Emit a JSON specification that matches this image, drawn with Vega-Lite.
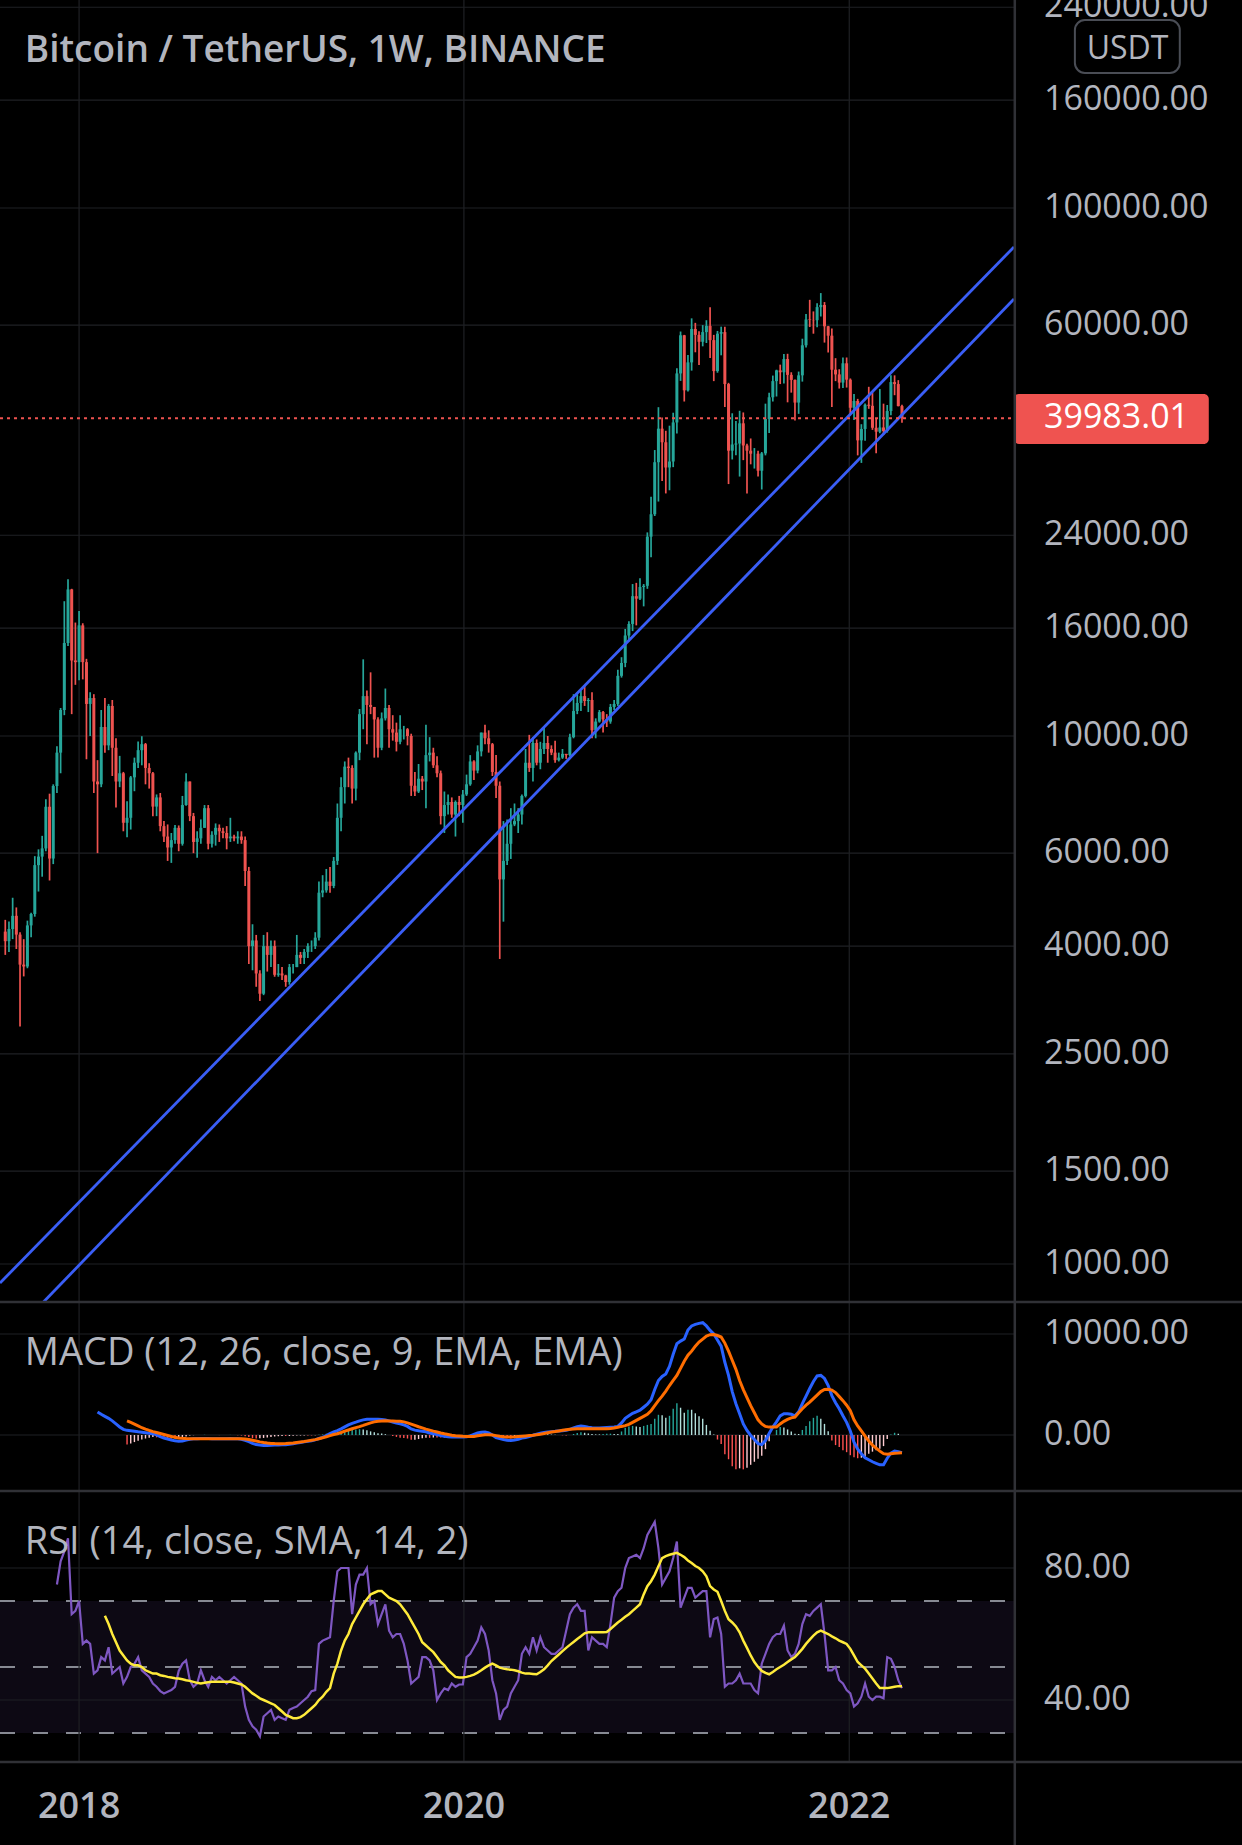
{
"$schema":"https://vega.github.io/schema/vega-lite/v6.json",
"width":1242,"height":1845,"autosize":{"type":"none"},"padding":0,"background":"#000000",
"config":{"view":{"stroke":null},"font":"Open Sans","legend":{"disable":true}},
"resolve":{"scale":{"y":"independent"}},
"datasets":{
"w":[
{"d":"2017-08-14","o":4261,"h":4485,"l":3850,"c":4087},
{"d":"2017-08-21","o":4087,"h":4453,"l":3900,"c":4310},
{"d":"2017-08-28","o":4310,"h":4939,"l":4124,"c":4565},
{"d":"2017-09-04","o":4565,"h":4735,"l":3950,"c":4206},
{"d":"2017-09-11","o":4206,"h":4250,"l":2817,"c":3690},
{"d":"2017-09-18","o":3690,"h":4123,"l":3505,"c":3660},
{"d":"2017-09-25","o":3660,"h":4470,"l":3632,"c":4378},
{"d":"2017-10-02","o":4378,"h":4626,"l":4158,"c":4602},
{"d":"2017-10-09","o":4602,"h":5922,"l":4548,"c":5694},
{"d":"2017-10-16","o":5694,"h":6100,"l":5075,"c":5910},
{"d":"2017-10-23","o":5910,"h":6470,"l":5414,"c":6125},
{"d":"2017-10-30","o":6125,"h":7590,"l":6050,"c":7345},
{"d":"2017-11-06","o":7345,"h":7776,"l":5325,"c":5860},
{"d":"2017-11-13","o":5860,"h":8100,"l":5720,"c":8040},
{"d":"2017-11-20","o":8040,"h":9560,"l":7800,"c":9300,"r":75},
{"d":"2017-11-27","o":9300,"h":11300,"l":8500,"c":11200,"r":82},
{"d":"2017-12-04","o":11200,"h":18000,"l":10950,"c":15000,"r":85},
{"d":"2017-12-11","o":15000,"h":19800,"l":14800,"c":18950,"r":89},
{"d":"2017-12-18","o":18950,"h":19000,"l":11000,"c":13900,"r":66},
{"d":"2017-12-25","o":13900,"h":16400,"l":12500,"c":13800,"r":67},
{"d":"2018-01-01","o":13800,"h":17250,"l":12750,"c":16200,"r":70},
{"d":"2018-01-08","o":16200,"h":16350,"l":12800,"c":13800,"r":57},
{"d":"2018-01-15","o":13800,"h":14000,"l":9035,"c":11500,"r":58},
{"d":"2018-01-22","o":11500,"h":12100,"l":10000,"c":11800,"r":57},
{"d":"2018-01-29","o":11800,"h":12000,"l":7800,"c":8200,"r":48},
{"d":"2018-02-05","o":8200,"h":9000,"l":6000,"c":8100,"r":49,"m":2280},
{"d":"2018-02-12","o":8100,"h":11200,"l":8000,"c":10400,"r":53,"m":2050},
{"d":"2018-02-19","o":10400,"h":11800,"l":9300,"c":9600,"r":52,"rs":65.5,"m":1850},
{"d":"2018-02-26","o":9600,"h":11500,"l":9400,"c":11400,"r":56,"rs":63,"m":1650},
{"d":"2018-03-05","o":11400,"h":11700,"l":8400,"c":9500,"r":48,"rs":60,"m":1400},
{"d":"2018-03-12","o":9500,"h":9900,"l":7320,"c":8200,"r":49,"rs":57.5,"m":1100},
{"d":"2018-03-19","o":8200,"h":9170,"l":8000,"c":8500,"r":50,"rs":55,"m":800},
{"d":"2018-03-26","o":8500,"h":8550,"l":6600,"c":6850,"r":45,"rs":53.5,"m":560},
{"d":"2018-04-02","o":6850,"h":7520,"l":6430,"c":7000,"r":47,"rs":52,"m":460,"s":1400,"hg":-940,"hc":"fb"},
{"d":"2018-04-09","o":7000,"h":8400,"l":6650,"c":8350,"r":50,"rs":51,"m":420,"s":1250,"hg":-830,"hc":"rb"},
{"d":"2018-04-16","o":8350,"h":9100,"l":7860,"c":8900,"r":51,"rs":50.5,"m":380,"s":1080,"hg":-700,"hc":"rb"},
{"d":"2018-04-23","o":8900,"h":9760,"l":8700,"c":9400,"r":53,"rs":50.5,"m":320,"s":900,"hg":-580,"hc":"rb"},
{"d":"2018-04-30","o":9400,"h":9990,"l":8800,"c":9650,"r":49,"rs":50,"m":280,"s":720,"hg":-440,"hc":"rb"},
{"d":"2018-05-07","o":9650,"h":9700,"l":8100,"c":8700,"r":48,"rs":49,"m":230,"s":580,"hg":-350,"hc":"rb"},
{"d":"2018-05-14","o":8700,"h":8880,"l":7950,"c":8500,"r":47,"rs":48.5,"m":180,"s":450,"hg":-270,"hc":"rb"},
{"d":"2018-05-21","o":8500,"h":8550,"l":7050,"c":7350,"r":45,"rs":48,"m":130,"s":330,"hg":-200,"hc":"rb"},
{"d":"2018-05-28","o":7350,"h":7750,"l":7050,"c":7650,"r":44,"rs":48,"m":20,"s":250,"hg":-230,"hc":"fb"},
{"d":"2018-06-04","o":7650,"h":7800,"l":6600,"c":6750,"r":42.7,"rs":47.5,"m":-150,"s":150,"hg":-300,"hc":"fb"},
{"d":"2018-06-11","o":6750,"h":6900,"l":6300,"c":6450,"r":42,"rs":47.3,"m":-300,"s":50,"hg":-350,"hc":"fb"},
{"d":"2018-06-18","o":6450,"h":6800,"l":5800,"c":6150,"r":42.5,"rs":47,"m":-400,"s":-50,"hg":-350,"hc":"fb"},
{"d":"2018-06-25","o":6150,"h":6550,"l":5750,"c":6350,"r":43,"rs":46.8,"m":-500,"s":-150,"hg":-350,"hc":"fb"},
{"d":"2018-07-02","o":6350,"h":6780,"l":6250,"c":6700,"r":44,"rs":46.6,"m":-580,"s":-220,"hg":-360,"hc":"fb"},
{"d":"2018-07-09","o":6700,"h":6770,"l":6050,"c":6250,"r":48.8,"rs":46.5,"m":-630,"s":-290,"hg":-340,"hc":"rb"},
{"d":"2018-07-16","o":6250,"h":7700,"l":6200,"c":7400,"r":51,"rs":46.3,"m":-600,"s":-330,"hg":-270,"hc":"rb"},
{"d":"2018-07-23","o":7400,"h":8500,"l":7380,"c":8200,"r":52,"rs":46,"m":-500,"s":-350,"hg":-150,"hc":"rb"},
{"d":"2018-07-30","o":8200,"h":8200,"l":6900,"c":7050,"r":46,"rs":45.8,"m":-420,"s":-360,"hg":-60,"hc":"rb"},
{"d":"2018-08-06","o":7050,"h":7150,"l":6000,"c":6300,"r":44,"rs":45.5,"m":-380,"s":-360,"hg":-20,"hc":"rb"},
{"d":"2018-08-13","o":6300,"h":6600,"l":5880,"c":6400,"r":45,"rs":45.2,"m":-360,"s":-360,"hg":0,"hc":"ga"},
{"d":"2018-08-20","o":6400,"h":6950,"l":6250,"c":6700,"r":49,"rs":45,"m":-350,"s":-360,"hg":10,"hc":"ga"},
{"d":"2018-08-27","o":6700,"h":7400,"l":6700,"c":7300,"r":46,"rs":45.2,"m":-340,"s":-360,"hg":20,"hc":"ga"},
{"d":"2018-09-03","o":7300,"h":7400,"l":6100,"c":6250,"r":44,"rs":45.4,"m":-350,"s":-360,"hg":10,"hc":"fa"},
{"d":"2018-09-10","o":6250,"h":6600,"l":6150,"c":6500,"r":47,"rs":45.5,"m":-360,"s":-360,"hg":0,"hc":"fa"},
{"d":"2018-09-17","o":6500,"h":6830,"l":6200,"c":6700,"r":46,"rs":45.5,"m":-360,"s":-360,"hg":0,"hc":"fa"},
{"d":"2018-09-24","o":6700,"h":6800,"l":6300,"c":6600,"r":47,"rs":45.5,"m":-370,"s":-360,"hg":-10,"hc":"fb"},
{"d":"2018-10-01","o":6600,"h":6700,"l":6400,"c":6550,"r":46,"rs":45.5,"m":-370,"s":-360,"hg":-10,"hc":"fb"},
{"d":"2018-10-08","o":6550,"h":6750,"l":6100,"c":6400,"r":45,"rs":45.5,"m":-360,"s":-360,"hg":0,"hc":"ga"},
{"d":"2018-10-15","o":6400,"h":7000,"l":6300,"c":6450,"r":46,"rs":45.5,"m":-350,"s":-360,"hg":10,"hc":"ga"},
{"d":"2018-10-22","o":6450,"h":6500,"l":6320,"c":6400,"r":47,"rs":45.3,"m":-360,"s":-360,"hg":0,"hc":"fa"},
{"d":"2018-10-29","o":6400,"h":6600,"l":6250,"c":6450,"r":46,"rs":45,"m":-380,"s":-360,"hg":-20,"hc":"fb"},
{"d":"2018-11-05","o":6450,"h":6600,"l":6250,"c":6350,"r":45,"rs":44.7,"m":-420,"s":-370,"hg":-50,"hc":"fb"},
{"d":"2018-11-12","o":6350,"h":6450,"l":5200,"c":5550,"r":38,"rs":44,"m":-520,"s":-400,"hg":-120,"hc":"fb"},
{"d":"2018-11-19","o":5550,"h":5650,"l":3700,"c":4000,"r":34,"rs":43,"m":-660,"s":-450,"hg":-210,"hc":"fb"},
{"d":"2018-11-26","o":4000,"h":4400,"l":3600,"c":4100,"r":32,"rs":42,"m":-830,"s":-520,"hg":-310,"hc":"fb"},
{"d":"2018-12-03","o":4100,"h":4200,"l":3350,"c":3550,"r":31,"rs":41.3,"m":-950,"s":-600,"hg":-350,"hc":"fb"},
{"d":"2018-12-10","o":3550,"h":3600,"l":3150,"c":3250,"r":29,"rs":40.5,"m":-1000,"s":-680,"hg":-320,"hc":"rb"},
{"d":"2018-12-17","o":3250,"h":4200,"l":3230,"c":4000,"r":35,"rs":40,"m":-1030,"s":-740,"hg":-290,"hc":"rb"},
{"d":"2018-12-24","o":4000,"h":4250,"l":3580,"c":3850,"r":36,"rs":39.5,"m":-1030,"s":-790,"hg":-240,"hc":"rb"},
{"d":"2018-12-31","o":3850,"h":4100,"l":3650,"c":4000,"r":37,"rs":39,"m":-1020,"s":-830,"hg":-190,"hc":"rb"},
{"d":"2019-01-07","o":4000,"h":4100,"l":3500,"c":3530,"r":34,"rs":38.5,"m":-1000,"s":-850,"hg":-150,"hc":"rb"},
{"d":"2019-01-14","o":3530,"h":3700,"l":3500,"c":3550,"r":35,"rs":37.5,"m":-980,"s":-860,"hg":-120,"hc":"rb"},
{"d":"2019-01-21","o":3550,"h":3650,"l":3450,"c":3520,"r":34.5,"rs":36.5,"m":-970,"s":-860,"hg":-110,"hc":"rb"},
{"d":"2019-01-28","o":3520,"h":3530,"l":3350,"c":3420,"r":34,"rs":35.5,"m":-960,"s":-850,"hg":-110,"hc":"fb"},
{"d":"2019-02-04","o":3420,"h":3700,"l":3380,"c":3650,"r":37,"rs":35,"m":-920,"s":-820,"hg":-100,"hc":"rb"},
{"d":"2019-02-11","o":3650,"h":3700,"l":3550,"c":3650,"r":37.6,"rs":34.5,"m":-870,"s":-790,"hg":-80,"hc":"rb"},
{"d":"2019-02-18","o":3650,"h":4200,"l":3650,"c":3850,"r":38,"rs":34.5,"m":-800,"s":-740,"hg":-60,"hc":"rb"},
{"d":"2019-02-25","o":3850,"h":3900,"l":3700,"c":3800,"r":39,"rs":34.8,"m":-740,"s":-690,"hg":-50,"hc":"rb"},
{"d":"2019-03-04","o":3800,"h":3950,"l":3700,"c":3900,"r":40,"rs":35.5,"m":-680,"s":-640,"hg":-40,"hc":"rb"},
{"d":"2019-03-11","o":3900,"h":4050,"l":3800,"c":4000,"r":41,"rs":36.5,"m":-620,"s":-580,"hg":-40,"hc":"fb"},
{"d":"2019-03-18","o":4000,"h":4100,"l":3900,"c":4000,"r":42.7,"rs":37.5,"m":-560,"s":-520,"hg":-40,"hc":"fb"},
{"d":"2019-03-25","o":4000,"h":4250,"l":3950,"c":4150,"r":43,"rs":38.5,"m":-480,"s":-460,"hg":-20,"hc":"rb"},
{"d":"2019-04-01","o":4150,"h":5300,"l":4100,"c":5050,"r":57,"rs":40,"m":-350,"s":-370,"hg":20,"hc":"ga"},
{"d":"2019-04-08","o":5050,"h":5450,"l":4950,"c":5100,"r":58,"rs":41,"m":-230,"s":-280,"hg":50,"hc":"ga"},
{"d":"2019-04-15","o":5100,"h":5600,"l":5050,"c":5300,"r":58.5,"rs":42.5,"m":-60,"s":-180,"hg":120,"hc":"ga"},
{"d":"2019-04-22","o":5300,"h":5650,"l":5050,"c":5200,"r":59,"rs":43.6,"m":150,"s":-60,"hg":210,"hc":"ga"},
{"d":"2019-04-29","o":5200,"h":5900,"l":5150,"c":5800,"r":70,"rs":48,"m":300,"s":50,"hg":250,"hc":"ga"},
{"d":"2019-05-06","o":5800,"h":7450,"l":5700,"c":7000,"r":79,"rs":51,"m":430,"s":130,"hg":300,"hc":"ga"},
{"d":"2019-05-13","o":7000,"h":8350,"l":6600,"c":8000,"r":80,"rs":55,"m":600,"s":250,"hg":350,"hc":"ga"},
{"d":"2019-05-20","o":8000,"h":8950,"l":7450,"c":8750,"r":80,"rs":58,"m":800,"s":380,"hg":420,"hc":"ga"},
{"d":"2019-05-27","o":8750,"h":9100,"l":8000,"c":8700,"r":80,"rs":60,"m":1000,"s":500,"hg":500,"hc":"ga"},
{"d":"2019-06-03","o":8700,"h":8800,"l":7450,"c":7950,"r":66,"rs":63,"m":1150,"s":620,"hg":530,"hc":"ga"},
{"d":"2019-06-10","o":7950,"h":9350,"l":7550,"c":9300,"r":75,"rs":65,"m":1270,"s":730,"hg":540,"hc":"ga"},
{"d":"2019-06-17","o":9300,"h":11250,"l":9000,"c":11000,"r":78,"rs":67,"m":1400,"s":830,"hg":570,"hc":"ga"},
{"d":"2019-06-24","o":11000,"h":13970,"l":10300,"c":11900,"r":78,"rs":69,"m":1500,"s":950,"hg":550,"hc":"fa"},
{"d":"2019-07-01","o":11900,"h":12200,"l":9650,"c":11450,"r":80,"rs":70.5,"m":1550,"s":1080,"hg":470,"hc":"fa"},
{"d":"2019-07-08","o":11450,"h":13200,"l":11000,"c":11350,"r":69,"rs":72,"m":1560,"s":1200,"hg":360,"hc":"fa"},
{"d":"2019-07-15","o":11350,"h":11350,"l":9100,"c":10750,"r":70,"rs":72.5,"m":1560,"s":1300,"hg":260,"hc":"fa"},
{"d":"2019-07-22","o":10750,"h":10850,"l":9100,"c":9500,"r":63,"rs":73,"m":1550,"s":1370,"hg":180,"hc":"fa"},
{"d":"2019-07-29","o":9500,"h":11080,"l":9400,"c":10800,"r":66,"rs":73,"m":1540,"s":1390,"hg":150,"hc":"fa"},
{"d":"2019-08-05","o":10800,"h":12300,"l":10700,"c":11300,"r":69,"rs":72,"m":1480,"s":1400,"hg":80,"hc":"fa"},
{"d":"2019-08-12","o":11300,"h":11450,"l":9500,"c":10300,"r":61,"rs":71,"m":1400,"s":1390,"hg":10,"hc":"fa"},
{"d":"2019-08-19","o":10300,"h":10950,"l":9800,"c":10150,"r":59,"rs":70.5,"m":1290,"s":1380,"hg":-90,"hc":"fb"},
{"d":"2019-08-26","o":10150,"h":10600,"l":9350,"c":9750,"r":60,"rs":70,"m":1180,"s":1370,"hg":-190,"hc":"fb"},
{"d":"2019-09-02","o":9750,"h":10950,"l":9650,"c":10300,"r":60,"rs":69,"m":1100,"s":1360,"hg":-260,"hc":"fb"},
{"d":"2019-09-09","o":10300,"h":10450,"l":9850,"c":10300,"r":57,"rs":67.5,"m":1000,"s":1300,"hg":-300,"hc":"fb"},
{"d":"2019-09-16","o":10300,"h":10350,"l":9600,"c":10000,"r":52,"rs":66,"m":850,"s":1200,"hg":-350,"hc":"fb"},
{"d":"2019-09-23","o":10000,"h":10100,"l":7700,"c":8050,"r":45,"rs":64,"m":600,"s":1080,"hg":-480,"hc":"fb"},
{"d":"2019-09-30","o":8050,"h":8550,"l":7700,"c":7850,"r":46,"rs":62,"m":480,"s":950,"hg":-470,"hc":"rb"},
{"d":"2019-10-07","o":7850,"h":8850,"l":7800,"c":8300,"r":47,"rs":60,"m":420,"s":820,"hg":-400,"hc":"rb"},
{"d":"2019-10-14","o":8300,"h":8400,"l":7900,"c":8200,"r":53,"rs":57.5,"m":380,"s":700,"hg":-320,"hc":"rb"},
{"d":"2019-10-21","o":8200,"h":10500,"l":7300,"c":9200,"r":53,"rs":56.5,"m":320,"s":580,"hg":-260,"hc":"rb"},
{"d":"2019-10-28","o":9200,"h":9950,"l":8950,"c":9300,"r":52,"rs":55.5,"m":200,"s":480,"hg":-280,"hc":"fb"},
{"d":"2019-11-04","o":9300,"h":9500,"l":8700,"c":8800,"r":49,"rs":54.5,"m":130,"s":380,"hg":-250,"hc":"rb"},
{"d":"2019-11-11","o":8800,"h":9150,"l":8350,"c":8500,"r":40,"rs":53,"m":50,"s":300,"hg":-250,"hc":"fb"},
{"d":"2019-11-18","o":8500,"h":8600,"l":6800,"c":7050,"r":42,"rs":51.5,"m":-50,"s":200,"hg":-250,"hc":"fb"},
{"d":"2019-11-25","o":7050,"h":7850,"l":6550,"c":7400,"r":43.5,"rs":50.5,"m":-120,"s":120,"hg":-240,"hc":"rb"},
{"d":"2019-12-02","o":7400,"h":7750,"l":7100,"c":7500,"r":43,"rs":49,"m":-180,"s":50,"hg":-230,"hc":"rb"},
{"d":"2019-12-09","o":7500,"h":7650,"l":7000,"c":7100,"r":45,"rs":48,"m":-200,"s":-20,"hg":-180,"hc":"rb"},
{"d":"2019-12-16","o":7100,"h":7550,"l":6450,"c":7500,"r":44,"rs":47,"m":-210,"s":-80,"hg":-130,"hc":"rb"},
{"d":"2019-12-23","o":7500,"h":7700,"l":7050,"c":7400,"r":44.7,"rs":46.8,"m":-210,"s":-100,"hg":-110,"hc":"rb"},
{"d":"2019-12-30","o":7400,"h":7900,"l":6850,"c":7750,"r":44.7,"rs":46.8,"m":-200,"s":-130,"hg":-70,"hc":"rb"},
{"d":"2020-01-06","o":7750,"h":8450,"l":7700,"c":8100,"r":53,"rs":47,"m":-180,"s":-150,"hg":-30,"hc":"rb"},
{"d":"2020-01-13","o":8100,"h":9200,"l":8050,"c":8950,"r":54,"rs":47.3,"m":-100,"s":-160,"hg":60,"hc":"ga"},
{"d":"2020-01-20","o":8950,"h":9000,"l":8250,"c":8600,"r":56,"rs":47.7,"m":50,"s":-140,"hg":190,"hc":"ga"},
{"d":"2020-01-27","o":8600,"h":9600,"l":8500,"c":9350,"r":58,"rs":48.3,"m":200,"s":-80,"hg":280,"hc":"ga"},
{"d":"2020-02-03","o":9350,"h":10150,"l":9150,"c":10150,"r":62,"rs":49,"m":280,"s":-20,"hg":300,"hc":"ga"},
{"d":"2020-02-10","o":10150,"h":10500,"l":9650,"c":9900,"r":60,"rs":49.8,"m":300,"s":20,"hg":280,"hc":"fa"},
{"d":"2020-02-17","o":9900,"h":10250,"l":9300,"c":9650,"r":55,"rs":50.5,"m":200,"s":30,"hg":170,"hc":"fa"},
{"d":"2020-02-24","o":9650,"h":9700,"l":8400,"c":8550,"r":46,"rs":51,"m":0,"s":0,"hg":0,"hc":"fa"},
{"d":"2020-03-02","o":8550,"h":9200,"l":7630,"c":8050,"r":42,"rs":50.5,"m":-250,"s":-60,"hg":-190,"hc":"fb"},
{"d":"2020-03-09","o":8050,"h":8200,"l":3782,"c":5350,"r":34,"rs":49.8,"m":-360,"s":-120,"hg":-240,"hc":"fb"},
{"d":"2020-03-16","o":5350,"h":6900,"l":4450,"c":5800,"r":37,"rs":49.5,"m":-450,"s":-170,"hg":-280,"hc":"fb"},
{"d":"2020-03-23","o":5800,"h":6950,"l":5700,"c":6250,"r":38,"rs":49.3,"m":-520,"s":-200,"hg":-320,"hc":"fb"},
{"d":"2020-03-30","o":6250,"h":7300,"l":5850,"c":6800,"r":42,"rs":49.2,"m":-540,"s":-200,"hg":-340,"hc":"fb"},
{"d":"2020-04-06","o":6800,"h":7450,"l":6750,"c":6900,"r":44,"rs":49,"m":-500,"s":-180,"hg":-320,"hc":"rb"},
{"d":"2020-04-13","o":6900,"h":7300,"l":6550,"c":7100,"r":46,"rs":48.7,"m":-420,"s":-150,"hg":-270,"hc":"rb"},
{"d":"2020-04-20","o":7100,"h":7750,"l":6800,"c":7700,"r":54,"rs":48.3,"m":-300,"s":-120,"hg":-180,"hc":"rb"},
{"d":"2020-04-27","o":7700,"h":9450,"l":7650,"c":8900,"r":56,"rs":48,"m":-250,"s":-90,"hg":-160,"hc":"rb"},
{"d":"2020-05-04","o":8900,"h":10050,"l":8550,"c":8700,"r":54,"rs":48,"m":-150,"s":-60,"hg":-90,"hc":"rb"},
{"d":"2020-05-11","o":8700,"h":9950,"l":8200,"c":9700,"r":59,"rs":47.9,"m":-30,"s":-30,"hg":0,"hc":"ga"},
{"d":"2020-05-18","o":9700,"h":9850,"l":8800,"c":8900,"r":55,"rs":47.8,"m":80,"s":20,"hg":60,"hc":"ga"},
{"d":"2020-05-25","o":8900,"h":9750,"l":8650,"c":9450,"r":59,"rs":48.5,"m":180,"s":80,"hg":100,"hc":"ga"},
{"d":"2020-06-01","o":9450,"h":10400,"l":9250,"c":9700,"r":56,"rs":49.3,"m":250,"s":150,"hg":100,"hc":"fa"},
{"d":"2020-06-08","o":9700,"h":10000,"l":8900,"c":9450,"r":55,"rs":50.5,"m":300,"s":230,"hg":70,"hc":"fa"},
{"d":"2020-06-15","o":9450,"h":9600,"l":9200,"c":9300,"r":54,"rs":51.8,"m":330,"s":290,"hg":40,"hc":"fa"},
{"d":"2020-06-22","o":9300,"h":9800,"l":8900,"c":9000,"r":54,"rs":52.8,"m":360,"s":340,"hg":20,"hc":"fa"},
{"d":"2020-06-29","o":9000,"h":9300,"l":8950,"c":9100,"r":55,"rs":53.8,"m":400,"s":400,"hg":0,"hc":"fa"},
{"d":"2020-07-06","o":9100,"h":9450,"l":9050,"c":9250,"r":56,"rs":54.8,"m":430,"s":460,"hg":-30,"hc":"fb"},
{"d":"2020-07-13","o":9250,"h":9250,"l":9050,"c":9200,"r":61,"rs":55.8,"m":460,"s":520,"hg":-60,"hc":"fb"},
{"d":"2020-07-20","o":9200,"h":10100,"l":9150,"c":9950,"r":66,"rs":56.7,"m":560,"s":560,"hg":0,"hc":"ga"},
{"d":"2020-07-27","o":9950,"h":12000,"l":9900,"c":11150,"r":68,"rs":57.6,"m":700,"s":600,"hg":100,"hc":"ga"},
{"d":"2020-08-03","o":11150,"h":12000,"l":11000,"c":11550,"r":69,"rs":58.5,"m":830,"s":630,"hg":200,"hc":"ga"},
{"d":"2020-08-10","o":11550,"h":12200,"l":11150,"c":11900,"r":67,"rs":59.3,"m":890,"s":630,"hg":260,"hc":"ga"},
{"d":"2020-08-17","o":11900,"h":12480,"l":11400,"c":11650,"r":67,"rs":60.2,"m":850,"s":630,"hg":220,"hc":"fa"},
{"d":"2020-08-24","o":11650,"h":11800,"l":11100,"c":11700,"r":55,"rs":60.5,"m":780,"s":630,"hg":150,"hc":"fa"},
{"d":"2020-08-31","o":11700,"h":12100,"l":9900,"c":10250,"r":59,"rs":60.5,"m":720,"s":630,"hg":90,"hc":"fa"},
{"d":"2020-09-07","o":10250,"h":10800,"l":9900,"c":10650,"r":58,"rs":60.5,"m":690,"s":630,"hg":60,"hc":"fa"},
{"d":"2020-09-14","o":10650,"h":11200,"l":10600,"c":11100,"r":57,"rs":60.5,"m":690,"s":630,"hg":60,"hc":"fa"},
{"d":"2020-09-21","o":11100,"h":11150,"l":10150,"c":10750,"r":57,"rs":60.5,"m":720,"s":630,"hg":90,"hc":"ga"},
{"d":"2020-09-28","o":10750,"h":11000,"l":10400,"c":10650,"r":56,"rs":60.6,"m":750,"s":630,"hg":120,"hc":"ga"},
{"d":"2020-10-05","o":10650,"h":11500,"l":10550,"c":11350,"r":63,"rs":61.5,"m":780,"s":650,"hg":130,"hc":"ga"},
{"d":"2020-10-12","o":11350,"h":11700,"l":11200,"c":11500,"r":71,"rs":62.5,"m":800,"s":700,"hg":100,"hc":"fa"},
{"d":"2020-10-19","o":11500,"h":13350,"l":11400,"c":13000,"r":73,"rs":63.5,"m":850,"s":760,"hg":90,"hc":"fa"},
{"d":"2020-10-26","o":13000,"h":14100,"l":12900,"c":13750,"r":74,"rs":64.3,"m":1200,"s":850,"hg":350,"hc":"ga"},
{"d":"2020-11-02","o":13750,"h":15950,"l":13500,"c":15500,"r":80,"rs":65.2,"m":1650,"s":930,"hg":720,"hc":"ga"},
{"d":"2020-11-09","o":15500,"h":16500,"l":15100,"c":16300,"r":83,"rs":66,"m":1900,"s":1050,"hg":850,"hc":"ga"},
{"d":"2020-11-16","o":16300,"h":19400,"l":15800,"c":18400,"r":83.5,"rs":67,"m":2150,"s":1250,"hg":900,"hc":"ga"},
{"d":"2020-11-23","o":18400,"h":19500,"l":16200,"c":18200,"r":84,"rs":68,"m":2300,"s":1450,"hg":850,"hc":"fa"},
{"d":"2020-11-30","o":18200,"h":19900,"l":18100,"c":19150,"r":83,"rs":69,"m":2450,"s":1650,"hg":800,"hc":"fa"},
{"d":"2020-12-07","o":19150,"h":19400,"l":17600,"c":19250,"r":86,"rs":72,"m":2750,"s":1850,"hg":900,"hc":"ga"},
{"d":"2020-12-14","o":19250,"h":24300,"l":19000,"c":23850,"r":90,"rs":74.5,"m":3050,"s":2050,"hg":1000,"hc":"ga"},
{"d":"2020-12-21","o":23850,"h":28400,"l":21800,"c":26300,"r":92,"rs":76,"m":3500,"s":2400,"hg":1100,"hc":"ga"},
{"d":"2020-12-28","o":26300,"h":34800,"l":26100,"c":33000,"r":94,"rs":78,"m":4500,"s":2900,"hg":1600,"hc":"ga"},
{"d":"2021-01-04","o":33000,"h":41950,"l":27800,"c":38200,"r":86,"rs":80.5,"m":5400,"s":3400,"hg":2000,"hc":"ga"},
{"d":"2021-01-11","o":38200,"h":40100,"l":30400,"c":36000,"r":75,"rs":83,"m":5800,"s":3850,"hg":1950,"hc":"fa"},
{"d":"2021-01-18","o":36000,"h":37850,"l":28800,"c":32250,"r":77,"rs":83.6,"m":6050,"s":4350,"hg":1700,"hc":"fa"},
{"d":"2021-01-25","o":32250,"h":38700,"l":29200,"c":33100,"r":79,"rs":84,"m":6800,"s":4900,"hg":1900,"hc":"ga"},
{"d":"2021-02-01","o":33100,"h":40950,"l":32300,"c":39250,"r":83,"rs":84.3,"m":8000,"s":5400,"hg":2600,"hc":"ga"},
{"d":"2021-02-08","o":39250,"h":49700,"l":37400,"c":48600,"r":88,"rs":84.6,"m":9040,"s":5900,"hg":3140,"hc":"ga"},
{"d":"2021-02-15","o":48600,"h":58350,"l":47050,"c":57400,"r":68,"rs":84,"m":9300,"s":6600,"hg":2700,"hc":"fa"},
{"d":"2021-02-22","o":57400,"h":57500,"l":43000,"c":45150,"r":71,"rs":83.3,"m":9500,"s":7300,"hg":2200,"hc":"fa"},
{"d":"2021-03-01","o":45150,"h":52650,"l":44900,"c":51000,"r":74,"rs":82.3,"m":10400,"s":7900,"hg":2500,"hc":"ga"},
{"d":"2021-03-08","o":51000,"h":61800,"l":49200,"c":59000,"r":74,"rs":81.5,"m":10800,"s":8300,"hg":2500,"hc":"fa"},
{"d":"2021-03-15","o":59000,"h":60600,"l":53300,"c":57500,"r":71,"rs":80.6,"m":10950,"s":8800,"hg":2150,"hc":"fa"},
{"d":"2021-03-22","o":57500,"h":58400,"l":50400,"c":55800,"r":72,"rs":80,"m":11050,"s":9200,"hg":1850,"hc":"fa"},
{"d":"2021-03-29","o":55800,"h":60000,"l":54700,"c":58200,"r":73,"rs":79,"m":11120,"s":9500,"hg":1620,"hc":"fa"},
{"d":"2021-04-05","o":58200,"h":61300,"l":55500,"c":59800,"r":73,"rs":77.5,"m":10800,"s":9800,"hg":1000,"hc":"fa"},
{"d":"2021-04-12","o":59800,"h":64850,"l":52000,"c":56200,"r":59,"rs":74.5,"m":10360,"s":9930,"hg":430,"hc":"fa"},
{"d":"2021-04-19","o":56200,"h":57500,"l":47000,"c":49100,"r":64.5,"rs":73.5,"m":10000,"s":9950,"hg":50,"hc":"fa"},
{"d":"2021-04-26","o":49100,"h":58500,"l":48750,"c":57800,"r":65,"rs":72.8,"m":9400,"s":9850,"hg":-450,"hc":"fb"},
{"d":"2021-05-03","o":57800,"h":59600,"l":52600,"c":58200,"r":60,"rs":70,"m":8800,"s":9700,"hg":-900,"hc":"fb"},
{"d":"2021-05-10","o":58200,"h":59600,"l":42000,"c":46400,"r":44,"rs":67,"m":7200,"s":9100,"hg":-1900,"hc":"fb"},
{"d":"2021-05-17","o":46400,"h":46650,"l":30000,"c":34700,"r":45,"rs":64.5,"m":5900,"s":8300,"hg":-2400,"hc":"fb"},
{"d":"2021-05-24","o":34700,"h":40850,"l":33400,"c":35650,"r":45,"rs":63.5,"m":4300,"s":7400,"hg":-3100,"hc":"fb"},
{"d":"2021-05-31","o":35650,"h":39500,"l":34000,"c":35800,"r":46,"rs":62.3,"m":3100,"s":6500,"hg":-3400,"hc":"fb"},
{"d":"2021-06-07","o":35800,"h":41300,"l":31000,"c":39100,"r":48,"rs":60.5,"m":2100,"s":5400,"hg":-3300,"hc":"rb"},
{"d":"2021-06-14","o":39100,"h":41000,"l":33300,"c":35500,"r":45,"rs":58,"m":1100,"s":4500,"hg":-3400,"hc":"fb"},
{"d":"2021-06-21","o":35500,"h":35750,"l":28800,"c":34700,"r":45,"rs":55.8,"m":450,"s":3700,"hg":-3250,"hc":"rb"},
{"d":"2021-06-28","o":34700,"h":36600,"l":32700,"c":34250,"r":45,"rs":53.5,"m":-50,"s":2900,"hg":-2950,"hc":"rb"},
{"d":"2021-07-05","o":34250,"h":35100,"l":32100,"c":34250,"r":43,"rs":51.5,"m":-450,"s":2200,"hg":-2650,"hc":"rb"},
{"d":"2021-07-12","o":34250,"h":34700,"l":31000,"c":31800,"r":42,"rs":50,"m":-850,"s":1500,"hg":-2350,"hc":"rb"},
{"d":"2021-07-19","o":31800,"h":34500,"l":29300,"c":34300,"r":51,"rs":48.8,"m":-950,"s":1100,"hg":-2050,"hc":"rb"},
{"d":"2021-07-26","o":34300,"h":42600,"l":34000,"c":39850,"r":54,"rs":48.2,"m":-550,"s":850,"hg":-1400,"hc":"rb"},
{"d":"2021-08-02","o":39850,"h":44700,"l":37500,"c":43800,"r":57,"rs":47.8,"m":150,"s":780,"hg":-630,"hc":"rb"},
{"d":"2021-08-09","o":43800,"h":48150,"l":43000,"c":47000,"r":59,"rs":48.5,"m":780,"s":780,"hg":0,"hc":"ga"},
{"d":"2021-08-16","o":47000,"h":49400,"l":43950,"c":49250,"r":60,"rs":49.3,"m":1300,"s":800,"hg":500,"hc":"ga"},
{"d":"2021-08-23","o":49250,"h":50500,"l":46400,"c":48850,"r":60,"rs":50,"m":1900,"s":1100,"hg":800,"hc":"ga"},
{"d":"2021-08-30","o":48850,"h":52900,"l":46500,"c":51750,"r":62.5,"rs":50.7,"m":2100,"s":1350,"hg":750,"hc":"fa"},
{"d":"2021-09-06","o":51750,"h":52950,"l":42850,"c":48300,"r":55,"rs":51.5,"m":2100,"s":1550,"hg":550,"hc":"fa"},
{"d":"2021-09-13","o":48300,"h":48850,"l":44700,"c":47250,"r":53,"rs":52.3,"m":2050,"s":1700,"hg":350,"hc":"fa"},
{"d":"2021-09-20","o":47250,"h":47350,"l":39600,"c":42800,"r":54,"rs":53,"m":1900,"s":1780,"hg":120,"hc":"fa"},
{"d":"2021-09-27","o":42800,"h":49000,"l":40750,"c":48200,"r":57,"rs":54.2,"m":2300,"s":2200,"hg":100,"hc":"fa"},
{"d":"2021-10-04","o":48200,"h":56550,"l":46900,"c":54950,"r":63,"rs":55.5,"m":3100,"s":2600,"hg":500,"hc":"ga"},
{"d":"2021-10-11","o":54950,"h":62950,"l":54400,"c":61500,"r":66,"rs":57,"m":3850,"s":2950,"hg":900,"hc":"ga"},
{"d":"2021-10-18","o":61500,"h":67000,"l":59500,"c":61350,"r":65.5,"rs":58.3,"m":4600,"s":3250,"hg":1350,"hc":"ga"},
{"d":"2021-10-25","o":61350,"h":63700,"l":57800,"c":61300,"r":67,"rs":59.5,"m":5300,"s":3600,"hg":1700,"hc":"ga"},
{"d":"2021-11-01","o":61300,"h":66000,"l":59450,"c":64900,"r":68,"rs":60.5,"m":5850,"s":3950,"hg":1900,"hc":"ga"},
{"d":"2021-11-08","o":64900,"h":69000,"l":62300,"c":65500,"r":69,"rs":61,"m":5900,"s":4300,"hg":1600,"hc":"fa"},
{"d":"2021-11-15","o":65500,"h":66350,"l":55600,"c":59700,"r":60,"rs":60.5,"m":5600,"s":4500,"hg":1100,"hc":"fa"},
{"d":"2021-11-22","o":59700,"h":59800,"l":53250,"c":57300,"r":49,"rs":60,"m":4900,"s":4520,"hg":380,"hc":"fa"},
{"d":"2021-11-29","o":57300,"h":59100,"l":42000,"c":49400,"r":49,"rs":59.3,"m":3900,"s":4450,"hg":-550,"hc":"fb"},
{"d":"2021-12-06","o":49400,"h":51950,"l":47000,"c":48400,"r":50,"rs":58.7,"m":3200,"s":4200,"hg":-1000,"hc":"fb"},
{"d":"2021-12-13","o":48400,"h":49500,"l":45500,"c":46700,"r":46,"rs":58,"m":2600,"s":3800,"hg":-1200,"hc":"fb"},
{"d":"2021-12-20","o":46700,"h":52100,"l":45600,"c":50800,"r":45,"rs":57.5,"m":1900,"s":3400,"hg":-1500,"hc":"fb"},
{"d":"2021-12-27","o":50800,"h":52100,"l":45700,"c":47300,"r":43,"rs":57,"m":1250,"s":2950,"hg":-1700,"hc":"fb"},
{"d":"2022-01-03","o":47300,"h":47550,"l":40500,"c":41850,"r":42,"rs":55.5,"m":400,"s":2400,"hg":-2000,"hc":"fb"},
{"d":"2022-01-10","o":41850,"h":44450,"l":39650,"c":43100,"r":38,"rs":53.5,"m":-700,"s":1500,"hg":-2200,"hc":"fb"},
{"d":"2022-01-17","o":43100,"h":43500,"l":34000,"c":36300,"r":39,"rs":51.5,"m":-1400,"s":900,"hg":-2300,"hc":"fb"},
{"d":"2022-01-24","o":36300,"h":38950,"l":32900,"c":38150,"r":41,"rs":50.5,"m":-1850,"s":400,"hg":-2250,"hc":"rb"},
{"d":"2022-01-31","o":38150,"h":42650,"l":36250,"c":42400,"r":45,"rs":49.5,"m":-2250,"s":-100,"hg":-2150,"hc":"rb"},
{"d":"2022-02-07","o":42400,"h":45850,"l":41650,"c":42200,"r":41,"rs":48,"m":-2450,"s":-600,"hg":-1850,"hc":"rb"},
{"d":"2022-02-14","o":42200,"h":44750,"l":38000,"c":38350,"r":40,"rs":46.5,"m":-2650,"s":-1000,"hg":-1650,"hc":"rb"},
{"d":"2022-02-21","o":38350,"h":39850,"l":34300,"c":37700,"r":41,"rs":45,"m":-2800,"s":-1300,"hg":-1500,"hc":"rb"},
{"d":"2022-02-28","o":37700,"h":45400,"l":37450,"c":38400,"r":41,"rs":43.6,"m":-2950,"s":-1600,"hg":-1350,"hc":"rb"},
{"d":"2022-03-07","o":38400,"h":42600,"l":37150,"c":37800,"r":40.5,"rs":43.6,"m":-2950,"s":-1850,"hg":-1100,"hc":"rb"},
{"d":"2022-03-14","o":37800,"h":42350,"l":37550,"c":41250,"r":53,"rs":43.6,"m":-2300,"s":-1900,"hg":-400,"hc":"rb"},
{"d":"2022-03-21","o":41250,"h":48200,"l":40500,"c":46800,"r":52.5,"rs":43.8,"m":-1800,"s":-1850,"hg":50,"hc":"ga"},
{"d":"2022-03-28","o":46800,"h":48200,"l":44200,"c":46400,"r":50,"rs":44,"m":-1580,"s":-1800,"hg":220,"hc":"ga"},
{"d":"2022-04-04","o":46400,"h":47200,"l":42100,"c":42150,"r":46,"rs":44.2,"m":-1650,"s":-1780,"hg":130,"hc":"fa"},
{"d":"2022-04-11","o":42150,"h":42400,"l":39200,"c":39983.01,"r":43.6,"rs":44.2,"m":-1750,"s":-1750,"hg":0,"hc":"fa"}
],
"pt":[{"v":1000},{"v":1500},{"v":2500},{"v":4000},{"v":6000},{"v":10000},{"v":16000},{"v":24000},{"v":60000},{"v":100000},{"v":160000},{"v":240000}],
"yrs":[{"d":"2018-01-01","t":"2018"},{"d":"2020-01-01","t":"2020"},{"d":"2022-01-01","t":"2022"}],
"ch":[{"k":"a","d":"2017-08-04T00:00:00Z","p":920.4},{"k":"a","d":"2022-11-09T12:00:00Z","p":84370},{"k":"b","d":"2017-10-25T12:00:00Z","p":847.4},{"k":"b","d":"2022-11-09T12:00:00Z","p":67240}]
},
"layer":[
{"data":{"values":[{}]},"mark":{"type":"rect","fill":"#7e57c2","opacity":0.1},
 "encoding":{"x":{"datum":{"year":2017,"month":8,"date":4,"utc":true},"type":"temporal","scale":{"domain":[{"year":2017,"month":8,"date":4,"utc":true},{"year":2024,"month":1,"date":16,"utc":true}]},"axis":null},
 "x2":{"datum":{"year":2022,"month":11,"date":9,"hours":12,"utc":true}},
 "y":{"datum":30,"type":"quantitative","scale":{"domain":[-3.94,555.15],"nice":false,"zero":false},"axis":null},"y2":{"datum":70}}},
{"data":{"name":"pt"},"mark":{"type":"rule","color":"#1f2024","strokeWidth":1.2},
 "encoding":{"x":{"datum":{"year":2017,"month":8,"date":4,"utc":true},"type":"temporal","scale":{"domain":[{"year":2017,"month":8,"date":4,"utc":true},{"year":2024,"month":1,"date":16,"utc":true}]},"axis":null},
 "x2":{"datum":{"year":2022,"month":11,"date":9,"hours":12,"utc":true}},
 "y":{"field":"v","type":"quantitative","scale":{"type":"log","domain":[79.37,247690],"nice":false},"axis":null}}},
{"data":{"values":[{"v":0},{"v":10000}]},"mark":{"type":"rule","color":"#1f2024","strokeWidth":1.2},
 "encoding":{"x":{"datum":{"year":2017,"month":8,"date":4,"utc":true},"type":"temporal","scale":{"domain":[{"year":2017,"month":8,"date":4,"utc":true},{"year":2024,"month":1,"date":16,"utc":true}]},"axis":null},
 "x2":{"datum":{"year":2022,"month":11,"date":9,"hours":12,"utc":true}},
 "y":{"field":"v","type":"quantitative","scale":{"domain":[-40594,142079],"nice":false,"zero":false},"axis":null}}},
{"data":{"values":[{"v":40},{"v":80}]},"mark":{"type":"rule","color":"#1f2024","strokeWidth":1.2},
 "encoding":{"x":{"datum":{"year":2017,"month":8,"date":4,"utc":true},"type":"temporal","scale":{"domain":[{"year":2017,"month":8,"date":4,"utc":true},{"year":2024,"month":1,"date":16,"utc":true}]},"axis":null},
 "x2":{"datum":{"year":2022,"month":11,"date":9,"hours":12,"utc":true}},
 "y":{"field":"v","type":"quantitative","scale":{"domain":[-3.94,555.15],"nice":false,"zero":false},"axis":null}}},
{"data":{"values":[{"v":30},{"v":50},{"v":70}]},"mark":{"type":"rule","color":"#878a93","strokeWidth":2,"strokeDash":[15,18]},
 "encoding":{"x":{"datum":{"year":2017,"month":8,"date":4,"utc":true},"type":"temporal","scale":{"domain":[{"year":2017,"month":8,"date":4,"utc":true},{"year":2024,"month":1,"date":16,"utc":true}]},"axis":null},
 "x2":{"datum":{"year":2022,"month":11,"date":9,"hours":12,"utc":true}},
 "y":{"field":"v","type":"quantitative","scale":{"domain":[-3.94,555.15],"nice":false,"zero":false},"axis":null}}},
{"data":{"name":"yrs"},"mark":{"type":"rule","color":"#1f2024","strokeWidth":1.2},
 "encoding":{"x":{"field":"d","type":"temporal","scale":{"domain":[{"year":2017,"month":8,"date":4,"utc":true},{"year":2024,"month":1,"date":16,"utc":true}]},"axis":null},
 "y":{"datum":555.15,"type":"quantitative","scale":{"domain":[-3.94,555.15],"nice":false,"zero":false},"axis":null},"y2":{"datum":21.21}}},
{"data":{"name":"w"},"mark":{"type":"rule","strokeWidth":1.7},
 "encoding":{"x":{"field":"d","type":"temporal","scale":{"domain":[{"year":2017,"month":8,"date":4,"utc":true},{"year":2024,"month":1,"date":16,"utc":true}]},"axis":null},
 "y":{"field":"l","type":"quantitative","scale":{"type":"log","domain":[79.37,247690],"nice":false},"axis":null},"y2":{"field":"h"},
 "color":{"condition":{"test":"datum.c >= datum.o","value":"#26a69a"},"value":"#ef5350"}}},
{"data":{"name":"w"},"mark":{"type":"rule","strokeWidth":3},
 "encoding":{"x":{"field":"d","type":"temporal","scale":{"domain":[{"year":2017,"month":8,"date":4,"utc":true},{"year":2024,"month":1,"date":16,"utc":true}]},"axis":null},
 "y":{"field":"o","type":"quantitative","scale":{"type":"log","domain":[79.37,247690],"nice":false},"axis":null},"y2":{"field":"c"},
 "color":{"condition":{"test":"datum.c >= datum.o","value":"#26a69a"},"value":"#ef5350"}}},
{"data":{"name":"ch"},"mark":{"type":"line","color":"#3a5ef6","strokeWidth":2.8},
 "encoding":{"x":{"field":"d","type":"temporal","scale":{"domain":[{"year":2017,"month":8,"date":4,"utc":true},{"year":2024,"month":1,"date":16,"utc":true}]},"axis":null},
 "y":{"field":"p","type":"quantitative","scale":{"type":"log","domain":[79.37,247690],"nice":false},"axis":null},"detail":{"field":"k"}}},
{"data":{"values":[{}]},"mark":{"type":"rule","color":"#ef5350","strokeWidth":2,"strokeDash":[3,4]},
 "encoding":{"x":{"datum":{"year":2017,"month":8,"date":4,"utc":true},"type":"temporal","scale":{"domain":[{"year":2017,"month":8,"date":4,"utc":true},{"year":2024,"month":1,"date":16,"utc":true}]},"axis":null},
 "x2":{"datum":{"year":2022,"month":11,"date":9,"hours":12,"utc":true}},
 "y":{"datum":39983.01,"type":"quantitative","scale":{"type":"log","domain":[79.37,247690],"nice":false},"axis":null}}},
{"data":{"values":[{}]},"mark":{"type":"rect","fill":"#ef5350","cornerRadius":5},
 "encoding":{"x":{"datum":{"year":2022,"month":11,"date":9,"hours":12,"utc":true},"type":"temporal","scale":{"domain":[{"year":2017,"month":8,"date":4,"utc":true},{"year":2024,"month":1,"date":16,"utc":true}]},"axis":null},
 "x2":{"datum":{"year":2023,"month":11,"date":14,"utc":true}},
 "y":{"datum":44440,"type":"quantitative","scale":{"type":"log","domain":[79.37,247690],"nice":false},"axis":null},"y2":{"datum":35730}}},
{"data":{"values":[{}]},"mark":{"type":"text","text":"39983.01","align":"left","baseline":"middle","font":"Open Sans","fontSize":34,"color":"#ffffff"},
 "encoding":{"x":{"datum":{"year":2023,"month":1,"date":5,"hours":10,"utc":true},"type":"temporal","scale":{"domain":[{"year":2017,"month":8,"date":4,"utc":true},{"year":2024,"month":1,"date":16,"utc":true}]},"axis":null},
 "y":{"datum":39983.01,"type":"quantitative","scale":{"type":"log","domain":[79.37,247690],"nice":false},"axis":null}}},
{"data":{"name":"pt"},"mark":{"type":"text","align":"left","baseline":"middle","font":"Open Sans","fontSize":34,"color":"#b2b5be"},
 "encoding":{"x":{"datum":{"year":2023,"month":1,"date":5,"hours":10,"utc":true},"type":"temporal","scale":{"domain":[{"year":2017,"month":8,"date":4,"utc":true},{"year":2024,"month":1,"date":16,"utc":true}]},"axis":null},
 "y":{"field":"v","type":"quantitative","scale":{"type":"log","domain":[79.37,247690],"nice":false},"axis":null},
 "text":{"field":"v","type":"quantitative","format":".2f"}}},
{"data":{"values":[{}]},"mark":{"type":"text","text":"Bitcoin / TetherUS, 1W, BINANCE","align":"left","baseline":"alphabetic","font":"Open Sans","fontSize":37,"fontWeight":600,"color":"#b2b5be"},
 "encoding":{"x":{"datum":{"year":2017,"month":9,"date":20,"utc":true},"type":"temporal","scale":{"domain":[{"year":2017,"month":8,"date":4,"utc":true},{"year":2024,"month":1,"date":16,"utc":true}]},"axis":null},
 "y":{"datum":189040,"type":"quantitative","scale":{"type":"log","domain":[79.37,247690],"nice":false},"axis":null}}},
{"data":{"values":[{}]},"mark":{"type":"rect","filled":false,"stroke":"#4a4d55","strokeWidth":2,"cornerRadius":10},
 "encoding":{"x":{"datum":{"year":2023,"month":3,"date":5,"utc":true},"type":"temporal","scale":{"domain":[{"year":2017,"month":8,"date":4,"utc":true},{"year":2024,"month":1,"date":16,"utc":true}]},"axis":null},
 "x2":{"datum":{"year":2023,"month":9,"date":20,"utc":true}},
 "y":{"datum":227000,"type":"quantitative","scale":{"type":"log","domain":[79.37,247690],"nice":false},"axis":null},"y2":{"datum":180200}}},
{"data":{"values":[{}]},"mark":{"type":"text","text":"USDT","align":"center","baseline":"middle","font":"Open Sans","fontSize":32,"color":"#b2b5be"},
 "encoding":{"x":{"datum":{"year":2023,"month":6,"date":12,"hours":19,"utc":true},"type":"temporal","scale":{"domain":[{"year":2017,"month":8,"date":4,"utc":true},{"year":2024,"month":1,"date":16,"utc":true}]},"axis":null},
 "y":{"datum":200100,"type":"quantitative","scale":{"type":"log","domain":[79.37,247690],"nice":false},"axis":null}}},
{"data":{"name":"w"},"transform":[{"filter":"isValid(datum.hg)"}],"mark":{"type":"rule","strokeWidth":1.4},
 "encoding":{"x":{"field":"d","type":"temporal","scale":{"domain":[{"year":2017,"month":8,"date":4,"utc":true},{"year":2024,"month":1,"date":16,"utc":true}]},"axis":null},
 "y":{"field":"hg","type":"quantitative","scale":{"domain":[-40594,142079],"nice":false,"zero":false},"axis":null},"y2":{"datum":0},
 "color":{"field":"hc","type":"nominal","scale":{"domain":["ga","fa","rb","fb"],"range":["#26a69a","#b2dfdb","#ffcdd2","#ff5252"]},"legend":null}}},
{"data":{"name":"w"},"transform":[{"filter":"isValid(datum.m)"}],"mark":{"type":"line","color":"#2962ff","strokeWidth":3},
 "encoding":{"x":{"field":"d","type":"temporal","scale":{"domain":[{"year":2017,"month":8,"date":4,"utc":true},{"year":2024,"month":1,"date":16,"utc":true}]},"axis":null},
 "y":{"field":"m","type":"quantitative","scale":{"domain":[-40594,142079],"nice":false,"zero":false},"axis":null}}},
{"data":{"name":"w"},"transform":[{"filter":"isValid(datum.s)"}],"mark":{"type":"line","color":"#ff6d00","strokeWidth":3},
 "encoding":{"x":{"field":"d","type":"temporal","scale":{"domain":[{"year":2017,"month":8,"date":4,"utc":true},{"year":2024,"month":1,"date":16,"utc":true}]},"axis":null},
 "y":{"field":"s","type":"quantitative","scale":{"domain":[-40594,142079],"nice":false,"zero":false},"axis":null}}},
{"data":{"values":[{"v":0},{"v":10000}]},"mark":{"type":"text","align":"left","baseline":"middle","font":"Open Sans","fontSize":34,"color":"#b2b5be"},
 "encoding":{"x":{"datum":{"year":2023,"month":1,"date":5,"hours":10,"utc":true},"type":"temporal","scale":{"domain":[{"year":2017,"month":8,"date":4,"utc":true},{"year":2024,"month":1,"date":16,"utc":true}]},"axis":null},
 "y":{"field":"v","type":"quantitative","scale":{"domain":[-40594,142079],"nice":false,"zero":false},"axis":null},
 "text":{"field":"v","type":"quantitative","format":".2f"}}},
{"data":{"values":[{}]},"mark":{"type":"text","text":"MACD (12, 26, close, 9, EMA, EMA)","align":"left","baseline":"alphabetic","font":"Open Sans","fontSize":38,"color":"#b2b5be"},
 "encoding":{"x":{"datum":{"year":2017,"month":9,"date":20,"utc":true},"type":"temporal","scale":{"domain":[{"year":2017,"month":8,"date":4,"utc":true},{"year":2024,"month":1,"date":16,"utc":true}]},"axis":null},
 "y":{"datum":6930,"type":"quantitative","scale":{"domain":[-40594,142079],"nice":false,"zero":false},"axis":null}}},
{"data":{"name":"w"},"transform":[{"filter":"isValid(datum.r)"}],"mark":{"type":"line","color":"#7e57c2","strokeWidth":2.2},
 "encoding":{"x":{"field":"d","type":"temporal","scale":{"domain":[{"year":2017,"month":8,"date":4,"utc":true},{"year":2024,"month":1,"date":16,"utc":true}]},"axis":null},
 "y":{"field":"r","type":"quantitative","scale":{"domain":[-3.94,555.15],"nice":false,"zero":false},"axis":null}}},
{"data":{"name":"w"},"transform":[{"filter":"isValid(datum.rs)"}],"mark":{"type":"line","color":"#ffeb3b","strokeWidth":2.5},
 "encoding":{"x":{"field":"d","type":"temporal","scale":{"domain":[{"year":2017,"month":8,"date":4,"utc":true},{"year":2024,"month":1,"date":16,"utc":true}]},"axis":null},
 "y":{"field":"rs","type":"quantitative","scale":{"domain":[-3.94,555.15],"nice":false,"zero":false},"axis":null}}},
{"data":{"values":[{"v":40},{"v":80}]},"mark":{"type":"text","align":"left","baseline":"middle","font":"Open Sans","fontSize":34,"color":"#b2b5be"},
 "encoding":{"x":{"datum":{"year":2023,"month":1,"date":5,"hours":10,"utc":true},"type":"temporal","scale":{"domain":[{"year":2017,"month":8,"date":4,"utc":true},{"year":2024,"month":1,"date":16,"utc":true}]},"axis":null},
 "y":{"field":"v","type":"quantitative","scale":{"domain":[-3.94,555.15],"nice":false,"zero":false},"axis":null},
 "text":{"field":"v","type":"quantitative","format":".2f"}}},
{"data":{"values":[{}]},"mark":{"type":"text","text":"RSI (14, close, SMA, 14, 2)","align":"left","baseline":"alphabetic","font":"Open Sans","fontSize":38,"color":"#b2b5be"},
 "encoding":{"x":{"datum":{"year":2017,"month":9,"date":20,"utc":true},"type":"temporal","scale":{"domain":[{"year":2017,"month":8,"date":4,"utc":true},{"year":2024,"month":1,"date":16,"utc":true}]},"axis":null},
 "y":{"datum":84.24,"type":"quantitative","scale":{"domain":[-3.94,555.15],"nice":false,"zero":false},"axis":null}}},
{"data":{"name":"yrs"},"mark":{"type":"text","align":"center","baseline":"alphabetic","font":"Open Sans","fontSize":36,"fontWeight":600,"color":"#b2b5be"},
 "encoding":{"x":{"field":"d","type":"temporal","scale":{"domain":[{"year":2017,"month":8,"date":4,"utc":true},{"year":2024,"month":1,"date":16,"utc":true}]},"axis":null},
 "y":{"datum":4.24,"type":"quantitative","scale":{"domain":[-3.94,555.15],"nice":false,"zero":false},"axis":null},
 "text":{"field":"t","type":"nominal"}}},
{"data":{"values":[{}]},"mark":{"type":"rule","color":"#303136","strokeWidth":2.5},
 "encoding":{"y":{"datum":847.4,"type":"quantitative","scale":{"type":"log","domain":[79.37,247690],"nice":false},"axis":null}}},
{"data":{"values":[{}]},"mark":{"type":"rule","color":"#303136","strokeWidth":2.5},
 "encoding":{"y":{"datum":-5545,"type":"quantitative","scale":{"domain":[-40594,142079],"nice":false,"zero":false},"axis":null}}},
{"data":{"values":[{}]},"mark":{"type":"rule","color":"#303136","strokeWidth":2.5},
 "encoding":{"y":{"datum":21.21,"type":"quantitative","scale":{"domain":[-3.94,555.15],"nice":false,"zero":false},"axis":null}}},
{"data":{"values":[{}]},"mark":{"type":"rule","color":"#303136","strokeWidth":2.5},
 "encoding":{"x":{"datum":{"year":2022,"month":11,"date":11,"utc":true},"type":"temporal","scale":{"domain":[{"year":2017,"month":8,"date":4,"utc":true},{"year":2024,"month":1,"date":16,"utc":true}]},"axis":null}}}
]
}
